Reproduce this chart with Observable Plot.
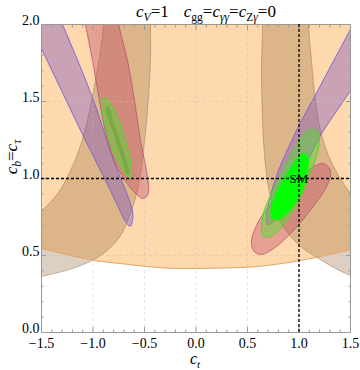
<!DOCTYPE html>
<html><head><meta charset="utf-8">
<script src="https://cdn.jsdelivr.net/npm/d3@7"></script>
<script src="https://cdn.jsdelivr.net/npm/@observablehq/plot@0.6"></script>
<style>
body{margin:0;background:#fff}
svg{display:block}
svg text, svg tspan{font-family:"Liberation Serif","Times New Roman","DejaVu Serif",serif !important}
</style>
</head><body><div id="chart"></div>
<script>
// ---- data (ct, cb) ----
const xMajor = [-1.5, -1, -0.5, 0, 0.5, 1, 1.5];
const yMajor = [0, 0.5, 1, 1.5, 2];
const xMinor = [-1.4,-1.3,-1.2,-1.1,-0.9,-0.8,-0.7,-0.6,-0.4,-0.3,-0.2,-0.1,0.1,0.2,0.3,0.4,0.6,0.7,0.8,0.9,1.1,1.2,1.3,1.4];
const yMinor = [0.1,0.2,0.3,0.4,0.6,0.7,0.8,0.9,1.1,1.2,1.3,1.4,1.6,1.7,1.8,1.9];
const xGrid = [-1, -0.5, 0, 0.5, 1];
const yGrid = [0.5, 1, 1.5];
const smPoint = [{ct: 1, cb: 1, label: "SM"}];

const orangeEdge = [[-1.65,0.565],[-1.5,0.545],[-1.218,0.5],[-0.995,0.468],[-0.733,0.448],[-0.49,0.429],[-0.199,0.416],[0.044,0.416],[0.286,0.419],[0.529,0.425],[0.772,0.442],[1.015,0.468],[1.257,0.5],[1.5,0.539],[1.65,0.562]];
const orangeTop = [[1.65,2.3],[-1.65,2.3]];

const brownLeft = [[-0.442,2.2],[-0.442,2.0],[-0.442,1.766],[-0.471,1.442],[-0.51,1.182],[-0.558,0.955],[-0.636,0.773],[-0.752,0.61],[-0.927,0.5],[-1.17,0.422],[-1.5,0.364],[-1.75,0.325],[-1.75,0.63],[-1.5,0.786],[-1.335,0.909],[-1.218,1.052],[-1.121,1.214],[-1.044,1.409],[-0.976,1.636],[-0.927,1.831],[-0.898,2.0],[-0.895,2.2]];
const brownRight = [[0.646,2.2],[0.646,2.0],[0.636,1.701],[0.646,1.377],[0.675,1.084],[0.733,0.857],[0.84,0.695],[0.995,0.571],[1.189,0.481],[1.354,0.416],[1.5,0.37],[1.7,0.33],[1.7,0.75],[1.5,0.903],[1.383,1.019],[1.286,1.149],[1.209,1.312],[1.16,1.506],[1.121,1.766],[1.092,2.0],[1.085,2.2]];

const purpleLeft = [[-1.51,2.318],[-1.296,2.0],[-0.995,1.506],[-0.801,1.117],[-0.636,0.836],[-0.612,0.75],[-0.64,0.69],[-0.69,0.725],[-0.752,0.812],[-0.879,0.987],[-1.073,1.247],[-1.283,1.539],[-1.5,1.844],[-1.704,2.13]];
const purpleRight = [[1.646,1.734],[1.5,1.571],[1.335,1.409],[1.209,1.279],[1.063,1.084],[0.966,0.955],[0.84,0.825],[0.743,0.714],[0.694,0.701],[0.684,0.76],[0.723,0.89],[0.801,1.052],[0.898,1.201],[1.015,1.364],[1.141,1.519],[1.306,1.727],[1.51,1.982],[1.597,2.104]];

const redLeft = [[-0.83,2.253],[-0.752,2.0],[-0.665,1.766],[-0.597,1.506],[-0.539,1.247],[-0.49,1.084],[-0.461,0.955],[-0.471,0.89],[-0.519,0.87],[-0.587,0.903],[-0.675,0.974],[-0.772,1.084],[-0.859,1.247],[-0.937,1.506],[-1.005,1.766],[-1.073,2.0],[-1.141,2.253]];
const redRight = [[1.238,1.097],[1.296,1.065],[1.306,1.013],[1.257,0.935],[1.16,0.838],[1.015,0.714],[0.869,0.61],[0.723,0.532],[0.626,0.506],[0.558,0.532],[0.539,0.597],[0.587,0.695],[0.675,0.792],[0.801,0.89],[0.937,0.974],[1.063,1.039],[1.16,1.084]];

const greenLeftOuter = [[-0.898,1.519],[-0.917,1.481],[-0.898,1.39],[-0.859,1.279],[-0.801,1.169],[-0.733,1.078],[-0.675,1.019],[-0.636,1.0],[-0.626,1.052],[-0.646,1.149],[-0.694,1.26],[-0.752,1.377],[-0.82,1.474],[-0.869,1.519]];
const greenLeftInner = [[-0.879,1.455],[-0.811,1.312],[-0.733,1.149],[-0.665,1.026],[-0.646,1.039],[-0.704,1.182],[-0.782,1.331],[-0.85,1.468]];
const greenRightOuter = [[1.112,1.318],[1.18,1.305],[1.199,1.247],[1.17,1.149],[1.092,1.0],[1.015,0.87],[0.917,0.76],[0.82,0.675],[0.723,0.623],[0.655,0.623],[0.636,0.675],[0.655,0.779],[0.723,0.89],[0.82,1.019],[0.937,1.169],[1.034,1.273]];
const greenRightInner = [[1.044,1.162],[1.092,1.136],[1.092,1.065],[1.063,0.974],[0.985,0.857],[0.888,0.773],[0.791,0.727],[0.733,0.74],[0.723,0.792],[0.762,0.883],[0.84,0.987],[0.937,1.091],[0.995,1.143]];

// ---- drawing ----
const FONT = "'Liberation Serif','Times New Roman','DejaVu Serif',serif";
const P = arr => arr.map(([ct, cb]) => ({ct, cb}));
const fmt = d3.format(".1f");
const region = (arr, o) => Plot.line(P(arr), {x: "ct", y: "cb", clip: true, strokeWidth: 0.9, ...o});
const TICK = "#9a9a9a";

const chart = Plot.plot({
  width: 360, height: 370,
  marginLeft: 41, marginRight: 10, marginTop: 24, marginBottom: 38,
  x: {domain: [-1.5, 1.5]},
  y: {domain: [0, 2]},
  style: {fontFamily: FONT, fontSize: "14px", background: "white", color: "black"},
  marks: [
    region(orangeEdge.concat(orangeTop), {fill: "#fed9ae", stroke: "none", curve: "catmull-rom"}),
    region(brownLeft, {fill: "#8e6234", fillOpacity: 0.3, stroke: "#9a7050", strokeOpacity: 0.6, strokeWidth: 0.8, curve: "catmull-rom"}),
    region(brownRight, {fill: "#8e6234", fillOpacity: 0.3, stroke: "#9a7050", strokeOpacity: 0.6, strokeWidth: 0.8, curve: "catmull-rom"}),
    region(orangeEdge, {stroke: "#f2a24e", strokeWidth: 1, curve: "catmull-rom"}),
    region(purpleLeft, {fill: "#7a50c4", fillOpacity: 0.4, stroke: "#7f5fd0", curve: "catmull-rom"}),
    region(purpleRight, {fill: "#7a50c4", fillOpacity: 0.4, stroke: "#7f5fd0", curve: "catmull-rom"}),
    region(redLeft, {fill: "#c04a6a", fillOpacity: 0.4, stroke: "#b84868", strokeOpacity: 0.8, curve: "catmull-rom"}),
    region(redRight, {fill: "#c04a6a", fillOpacity: 0.4, stroke: "#b84868", strokeOpacity: 0.8, curve: "catmull-rom-closed"}),
    region(greenLeftOuter, {fill: "#50e030", fillOpacity: 0.45, stroke: "#40e020", curve: "catmull-rom-closed"}),
    region(greenLeftInner, {fill: "#40a020", fillOpacity: 0.35, stroke: "none", curve: "catmull-rom-closed"}),
    region(greenRightOuter, {fill: "#50e030", fillOpacity: 0.45, stroke: "#40e020", curve: "catmull-rom-closed"}),
    region(greenRightInner, {fill: "#00ff00", stroke: "none", curve: "catmull-rom-closed"}),
    Plot.ruleX(xGrid, {stroke: "#c0c0c0", strokeOpacity: 0.45, strokeDasharray: "3,3"}),
    Plot.ruleY(yGrid, {stroke: "#c0c0c0", strokeOpacity: 0.45, strokeDasharray: "3,3"}),
    Plot.frame({stroke: TICK}),
    // inward ticks on all four sides
    Plot.axisX(xMajor, {anchor: "bottom", tickSize: 5, dy: -5, stroke: TICK, fill: "none", label: null}),
    Plot.axisX(xMinor, {anchor: "bottom", tickSize: 2.5, dy: -2.5, stroke: TICK, fill: "none", label: null}),
    Plot.axisX(xMajor, {anchor: "top", tickSize: 5, dy: 5, stroke: TICK, fill: "none", label: null}),
    Plot.axisX(xMinor, {anchor: "top", tickSize: 2.5, dy: 2.5, stroke: TICK, fill: "none", label: null}),
    Plot.axisY(yMajor, {anchor: "left", tickSize: 5, dx: 5, stroke: TICK, fill: "none", label: null}),
    Plot.axisY(yMinor, {anchor: "left", tickSize: 2.5, dx: 2.5, stroke: TICK, fill: "none", label: null}),
    Plot.axisY(yMajor, {anchor: "right", tickSize: 5, dx: -5, stroke: TICK, fill: "none", label: null}),
    Plot.axisY(yMinor, {anchor: "right", tickSize: 2.5, dx: -2.5, stroke: TICK, fill: "none", label: null}),
    // labels
    Plot.axisX(xMajor, {anchor: "bottom", tickSize: 0, tickPadding: 6, tickFormat: fmt, fontSize: 14, label: null}),
    Plot.axisY(yMajor, {anchor: "left", tickSize: 0, tickPadding: 2, tickFormat: fmt, fontSize: 14, label: null, dy: -4}),
    // SM reference lines and label
    Plot.ruleY(smPoint, {y: "cb", stroke: "black", strokeWidth: 1.3, strokeDasharray: "3,2"}),
    Plot.ruleX(smPoint, {x: "ct", stroke: "black", strokeWidth: 1.3, strokeDasharray: "3,2"}),
    Plot.text(smPoint, {x: "ct", y: "cb", text: "label", fontSize: 13, fill: "black"})
  ]
});

const svg = d3.select(chart);
function rich(g, parts) {
  let shifted = 0;
  for (const p of parts) {
    const ts = g.append("tspan").text(p.t);
    if (p.i) ts.attr("font-style", "italic");
    if (p.dx) ts.attr("dx", p.dx);
    if (p.sub && !shifted) { ts.attr("dy", 4).attr("font-size", "0.68em"); shifted = 1; }
    else if (p.sub) { ts.attr("font-size", "0.68em"); }
    else if (shifted) { ts.attr("dy", -4); shifted = 0; }
  }
}
// title
const title = svg.append("text").attr("x", 206).attr("y", 17).attr("text-anchor", "middle").attr("font-size", 17).attr("fill", "black");
rich(title, [{t: "c", i: 1}, {t: "V", i: 1, sub: 1}, {t: "=1"}, {t: "c", i: 1, dx: 15}, {t: "gg", sub: 1}, {t: "="}, {t: "c", i: 1}, {t: "γγ", i: 1, sub: 1}, {t: "="}, {t: "c", i: 1}, {t: "Z", sub: 1}, {t: "γ", i: 1, sub: 1}, {t: "=0"}]);
// x label
const xl = svg.append("text").attr("x", 195).attr("y", 364).attr("text-anchor", "middle").attr("font-size", 16).attr("fill", "black");
rich(xl, [{t: "c", i: 1}, {t: "t", i: 1, sub: 1}]);
// y label
const yl = svg.append("text").attr("transform", "translate(17,157) rotate(-90)").attr("text-anchor", "middle").attr("font-size", 17).attr("fill", "black");
rich(yl, [{t: "c", i: 1}, {t: "b", i: 1, sub: 1}, {t: "="}, {t: "c", i: 1}, {t: "τ", i: 1, sub: 1}]);

document.getElementById("chart").appendChild(chart);
</script>
</body></html>
